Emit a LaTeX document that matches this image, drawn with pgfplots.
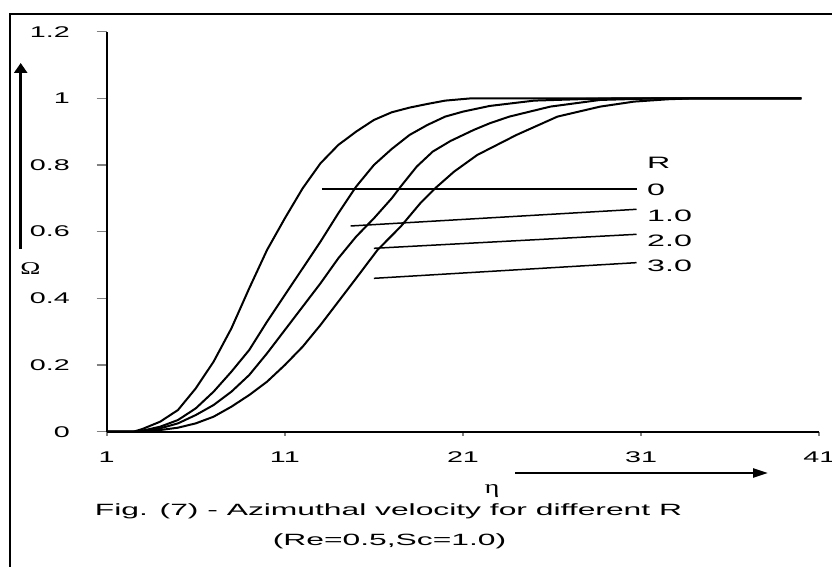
\documentclass[border=0pt]{standalone}
\usepackage{fontspec}
\setmainfont{Liberation Sans}
\newfontfamily\wf[FakeStretch=1.95]{Liberation Sans}
\newfontfamily\wt[FakeStretch=1.85]{Liberation Sans}
\newfontfamily\gf[FakeStretch=1.5]{Liberation Serif}
\usepackage{pgfplots}
\pgfplotsset{compat=1.18}
\usetikzlibrary{arrows.meta}

\pgfplotstableread{
x y
1 0
2.5 0
3.0 0.008
4.0 0.03
5.0 0.065
6.0 0.13
7.0 0.21
8.0 0.31
9.0 0.43
10.0 0.545
11.0 0.64
12.0 0.73
13.0 0.805
14.0 0.86
15.0 0.9
16.0 0.935
17.0 0.958
18.0 0.972
19.0 0.983
20.0 0.993
21.5 1
40 1
}\rzero
\pgfplotstableread{
x y
1 0
2.6 0
3.0 0.003
4.0 0.015
5.0 0.035
6.0 0.07
7.0 0.12
8.0 0.18
9.0 0.245
10.0 0.33
11.0 0.41
12.0 0.49
13.0 0.57
14.0 0.655
15.0 0.735
16.0 0.8
17.0 0.848
18.0 0.89
19.0 0.92
20.0 0.945
21.0 0.96
22.5 0.977
25.0 0.993
28.0 0.998
30.0 1
40 1
}\rone
\pgfplotstableread{
x y
1 0
2.8 0
3.0 0.002
4.0 0.01
5.0 0.025
6.0 0.05
7.0 0.08
8.0 0.12
9.0 0.17
10.0 0.235
11.0 0.305
12.0 0.375
13.0 0.445
14.0 0.52
15.0 0.585
16.0 0.64
17.0 0.70
17.5 0.735
18.4 0.795
19.3 0.84
20.3 0.872
21.6 0.905
22.5 0.925
23.6 0.945
25.9 0.975
28.7 0.995
32.0 1
40 1
}\rtwo
\pgfplotstableread{
x y
1 0
3.0 0
4.0 0.005
5.0 0.012
6.0 0.025
7.0 0.045
8.0 0.075
9.0 0.11
10.0 0.15
11.0 0.2
12.0 0.255
13.0 0.32
14.0 0.39
15.0 0.46
16.2 0.545
17.5 0.615
18.6 0.685
19.5 0.733
20.5 0.78
21.8 0.83
24.0 0.89
26.3 0.945
28.7 0.975
30.6 0.99
32.5 0.997
34.0 1
40 1
}\rthree

\begin{document}
\begin{tikzpicture}
\useasboundingbox (0bp,0bp) rectangle (832bp,567bp);
\draw[line width=2bp] (10bp,-5bp) -- (10bp,553bp) -- (840bp,553bp);
\begin{axis}[
  at={(106.7bp,135.3bp)}, anchor=south west,
  scale only axis, width=712.6bp, height=400.1bp,
  xmin=1, xmax=41, ymin=0, ymax=1.2,
  axis x line*=bottom, axis y line*=left,
  axis line style={line width=1.9bp},
  xtick={1,11,21,31,41}, ytick={0,0.2,0.4,0.6,0.8,1,1.2},
  tick align=outside,
  major tick length=10bp,
  xtick style={/pgfplots/major tick length=4bp, line width=1.8bp},
  ytick style={line width=1.4bp},
  /pgf/number format/assume math mode=true,
  /pgf/number format/fixed,
  ticklabel style={font=\wt\fontsize{15.5bp}{18bp}\selectfont},
  yticklabel style={anchor=east, inner sep=0pt, xshift=-26.7bp},
  xticklabel style={anchor=north, inner sep=0pt, yshift=-10bp},
]
\addplot[black, line width=2bp] table {\rzero};
\addplot[black, line width=2bp] table {\rone};
\addplot[black, line width=2bp] table {\rtwo};
\addplot[black, line width=2bp] table {\rthree};
\addplot[black, line width=1.5bp] coordinates {(13.08,0.728) (30.74,0.728)};
\addplot[black, line width=1.5bp] coordinates {(14.69,0.617) (30.74,0.667)};
\addplot[black, line width=1.5bp] coordinates {(16.0,0.55) (30.74,0.592)};
\addplot[black, line width=1.5bp] coordinates {(16.0,0.46) (30.74,0.507)};
\begin{scope}[every node/.style={anchor=base west, inner sep=0pt, font=\wf\fontsize{16.5bp}{19bp}\selectfont}]
\node at (axis cs:31.33,0.789) {R};
\node at (axis cs:31.33,0.707) {0};
\node at (axis cs:31.33,0.629) {1.0};
\node at (axis cs:31.33,0.554) {2.0};
\node at (axis cs:31.33,0.479) {3.0};
\end{scope}
\end{axis}
% axis-title arrows and labels
\draw[line width=3bp, -{Triangle[length=10bp, width=13bp]}] (20.7bp,318bp) -- (20.7bp,504bp);
\node[anchor=base, inner sep=0pt, font=\gf\fontsize{18bp}{20bp}\selectfont] at (30.3bp,292bp) {Ω};
\draw[line width=2.2bp, -{Triangle[length=15bp, width=9bp]}] (515bp,94bp) -- (768bp,94bp);
\node[anchor=base, inner sep=0pt, font=\gf\fontsize{19bp}{20bp}\selectfont] at (492bp,73bp) {η};
\node[anchor=base, inner sep=0pt, font=\wf\fontsize{16.3bp}{20bp}\selectfont] at (388.5bp,51.5bp) {Fig. (7) - Azimuthal velocity for different R};
\node[anchor=base, inner sep=0pt, font=\wf\fontsize{16.3bp}{20bp}\selectfont] at (389.5bp,22bp) {(Re=0.5,Sc=1.0)};
\end{tikzpicture}
\end{document}
